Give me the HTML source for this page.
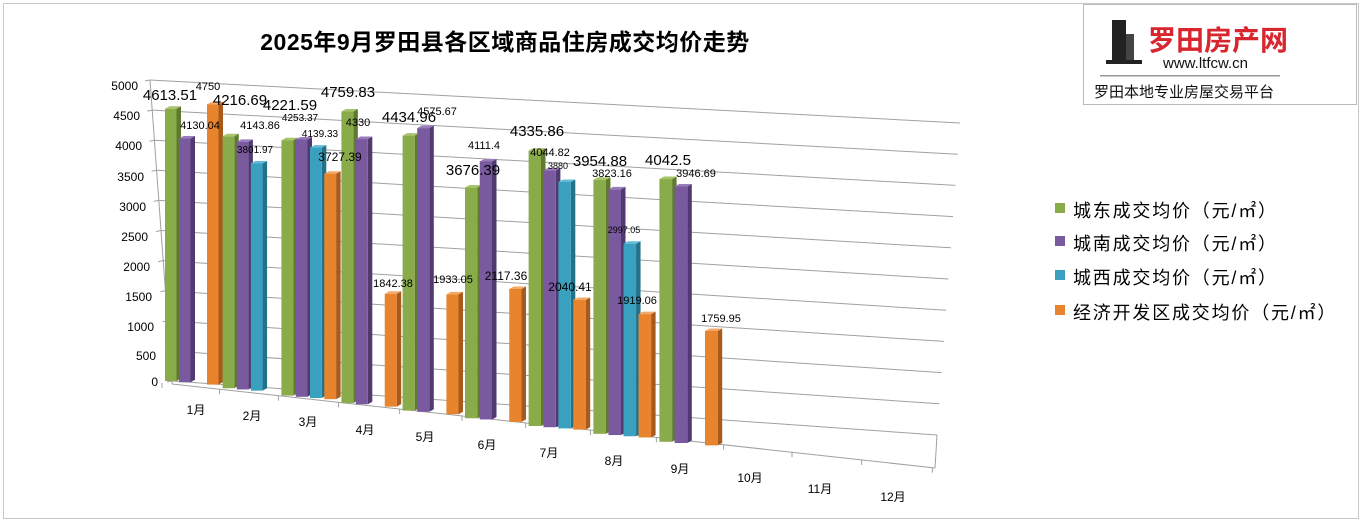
<!DOCTYPE html>
<html><head><meta charset="utf-8">
<style>
html,body{margin:0;padding:0;background:#fff;}
svg{display:block;font-family:"Liberation Sans","Noto Sans CJK SC",sans-serif;}
</style></head>
<body>
<svg id="c" width="1363" height="523" viewBox="0 0 1363 523" xmlns="http://www.w3.org/2000/svg">
<rect x="0" y="0" width="1363" height="523" fill="#fff"/>
<rect x="3.5" y="3.5" width="1355" height="515" fill="none" stroke="#c8c8c8"/>
<g id="grid" stroke="#a0a0a0" stroke-width="1" fill="none"></g>
<g id="bars"></g>
<g font-size="12" fill="#000" text-anchor="end">
<text x="138" y="90">5000</text><text x="140" y="120">4500</text><text x="142" y="150">4000</text>
<text x="144" y="181">3500</text><text x="146" y="211">3000</text><text x="148" y="241">2500</text>
<text x="150" y="271">2000</text><text x="152" y="301">1500</text><text x="154" y="331">1000</text>
<text x="156" y="360">500</text><text x="158" y="386">0</text>
</g>
<g font-size="12" fill="#000" text-anchor="middle">
<text x="196" y="414">1月</text><text x="252" y="420">2月</text><text x="308" y="426">3月</text>
<text x="365" y="434">4月</text><text x="425" y="441">5月</text><text x="487" y="449">6月</text>
<text x="549" y="457">7月</text><text x="614" y="465">8月</text><text x="680" y="473">9月</text>
<text x="750" y="482">10月</text><text x="820" y="493">11月</text><text x="893" y="501">12月</text>
</g>
<g fill="#000" text-anchor="middle">
<text x="170" y="100" font-size="15">4613.51</text><text x="200" y="129" font-size="11">4130.04</text><text x="208" y="90" font-size="11">4750</text>
<text x="240" y="105" font-size="15">4216.69</text><text x="260" y="129" font-size="11">4143.86</text><text x="255" y="153" font-size="10">3801.97</text>
<text x="290" y="110" font-size="15">4221.59</text><text x="300" y="121" font-size="10">4253.37</text><text x="320" y="137" font-size="10">4139.33</text><text x="340" y="161" font-size="12">3727.39</text>
<text x="348" y="97" font-size="15">4759.83</text><text x="358" y="126" font-size="11">4330</text><text x="393" y="287" font-size="11">1842.38</text>
<text x="409" y="122" font-size="15">4434.96</text><text x="437" y="115" font-size="11">4575.67</text><text x="453" y="283" font-size="11">1933.05</text>
<text x="473" y="175" font-size="15">3676.39</text><text x="484" y="149" font-size="11">4111.4</text><text x="506" y="280" font-size="12">2117.36</text>
<text x="537" y="136" font-size="15">4335.86</text><text x="550" y="156" font-size="11">4044.82</text><text x="558" y="169" font-size="9">3880</text><text x="570" y="291" font-size="12">2040.41</text>
<text x="600" y="166" font-size="15">3954.88</text><text x="612" y="177" font-size="11">3823.16</text><text x="624" y="233" font-size="9">2997.05</text><text x="637" y="304" font-size="11">1919.06</text>
<text x="668" y="165" font-size="15">4042.5</text><text x="696" y="177" font-size="11">3946.69</text><text x="721" y="322" font-size="11">1759.95</text>
</g>
<text x="505" y="50" font-size="23" font-weight="bold" text-anchor="middle" letter-spacing="0.5">2025年9月罗田县各区域商品住房成交均价走势</text>
<g font-size="18" fill="#000" letter-spacing="1.8">
<rect x="1055" y="203" width="10" height="10" fill="#8aab4a"/><text x="1073" y="217">城东成交均价（元/㎡）</text>
<rect x="1055" y="236" width="10" height="10" fill="#7a5a9e"/><text x="1073" y="250">城南成交均价（元/㎡）</text>
<rect x="1055" y="270" width="10" height="10" fill="#3aa0bf"/><text x="1073" y="284">城西成交均价（元/㎡）</text>
<rect x="1055" y="305" width="10" height="10" fill="#e8832e"/><text x="1073" y="319">经济开发区成交均价（元/㎡）</text>
</g>
<rect x="1083.5" y="4.5" width="273" height="100" fill="#fff" stroke="#bbb"/>
<g>
<rect x="1112" y="20" width="14" height="42" fill="#222"/>
<rect x="1126" y="34" width="8" height="28" fill="#444"/>
<rect x="1106" y="60" width="36" height="4" fill="#222"/>
<text x="1148" y="50" font-size="28" font-weight="bold" fill="#d8262e">罗田房产网</text>
<text x="1163" y="68" font-size="15" fill="#111">www.ltfcw.cn</text>
<rect x="1100" y="75" width="180" height="1.5" fill="#999"/>
<text x="1094" y="97" font-size="15" fill="#111">罗田本地专业房屋交易平台</text>
</g>
</svg>
<script>
(function(){
var ns="http://www.w3.org/2000/svg";
var g=document.getElementById('grid'),b=document.getElementById('bars');
function el(p,t,a){var e=document.createElementNS(ns,t);for(var k in a)e.setAttribute(k,a[k]);p.appendChild(e);return e;}
for(var k=0;k<=10;k++){var f=k/10;
 var x1=172-22*f,y1=381-301*f,x2=937+23*f,y2=435-312*f;
 el(g,'line',{x1:x1,y1:y1,x2:x2,y2:y2});
 el(g,'line',{x1:x1-5,y1:y1+1,x2:x1,y2:y1});
}
el(g,'line',{x1:150,y1:80,x2:172,y2:381});
el(g,'line',{x1:172,y1:381,x2:172,y2:384});
el(g,'line',{x1:172,y1:384,x2:935,y2:468});
el(g,'line',{x1:937,y1:435,x2:935,y2:468});
for(var i=0;i<=12;i++){var tx=165+57*i+0.6*i*i-3, ty=384+(tx-172)*84/763;el(g,'line',{x1:tx,y1:ty,x2:tx,y2:ty+5});}
var data=[[4613.51,4130.04,null,4750],[4216.69,4143.86,3801.97,null],[4221.59,4253.37,4139.33,3727.39],
[4759.83,4330,null,1842.38],[4434.96,4575.67,null,1933.05],[3676.39,4111.4,null,2117.36],
[4335.86,4044.82,3880,2040.41],[3954.88,3823.16,2997.05,1919.06],[4042.5,3946.69,null,1759.95]];
var cols=[["#8aab4a","#5f7a2e","#a8c46a"],["#7a5a9e","#513a70","#9a7cbd"],["#3aa0bf","#24718a","#62bcd6"],["#e8832e","#a85a1c","#f3a866"]];
for(var i=0;i<9;i++){
 var ox=165+57*i+0.6*i*i, oy=381+7.2*i+0.05*i*i, s=(59+0.75*i)/1000, slot=14+0.15*i;
 for(var j=0;j<4;j++){var v=data[i][j];if(v==null)continue;
  var x=ox+slot*j, yb=oy+1.2*j, h=v*s, yt=yb-h, w=slot-2.5, d=4.5, dy=2.5;
  var c=cols[j];
  el(b,'polygon',{points:[x+w,yt,x+w+d,yt-dy,x+w+d,yb-dy,x+w,yb].join(' '),fill:c[1]});
  el(b,'polygon',{points:[x,yt,x+d,yt-dy,x+w+d,yt-dy,x+w,yt].join(' '),fill:c[2]});
  el(b,'rect',{x:x,y:yt,width:w,height:h,fill:c[0]});
 }
}
})();
</script>
</body></html>
